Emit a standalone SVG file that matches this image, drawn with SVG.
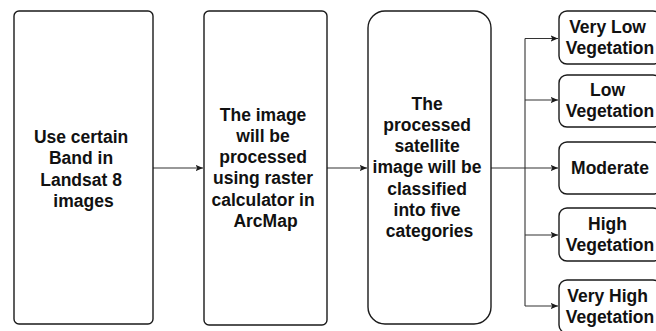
<svg xmlns="http://www.w3.org/2000/svg" width="656" height="331" viewBox="0 0 656 331">
  <defs>
    <marker id="arrow" viewBox="0 0 8 8" refX="7.5" refY="4" markerWidth="8" markerHeight="8" markerUnits="userSpaceOnUse" orient="auto">
      <path d="M0,0.8 L7.5,4 L0,7.2 L1.8,4 Z" fill="#1a1a1a"/>
    </marker>
    <style>
      .box { fill: #ffffff; stroke: #1a1a1a; stroke-width: 1.4; }
      .edge { fill: none; stroke: #333333; stroke-width: 1.1; }
      .lbl { font-family: "Liberation Sans", Arial, sans-serif; font-weight: bold; font-size: 17.5px; fill: #111111; text-anchor: middle; }
    </style>
  </defs>
  <rect width="656" height="331" fill="#ffffff"/>

  <g id="connectors">
    <path class="edge" d="M153,168 H203" marker-end="url(#arrow)"/>
    <path class="edge" d="M327,168 H367" marker-end="url(#arrow)"/>
    <path class="edge" d="M491,168 H558" marker-end="url(#arrow)"/>
    <path class="edge" d="M525,38.5 V306"/>
    <path class="edge" d="M525,38.5 H558" marker-end="url(#arrow)"/>
    <path class="edge" d="M525,100 H558" marker-end="url(#arrow)"/>
    <path class="edge" d="M525,235 H558" marker-end="url(#arrow)"/>
    <path class="edge" d="M525,306 H558" marker-end="url(#arrow)"/>
  </g>

  <g id="band-selection">
    <rect class="box" x="14" y="11" width="139" height="313" rx="5"/>
    <text class="lbl">
      <tspan x="83.5" y="143">Use certain</tspan>
      <tspan x="83.5" y="164.3">Band in</tspan>
      <tspan x="83.5" y="185.6">Landsat 8</tspan>
      <tspan x="83.5" y="206.9">images</tspan>
    </text>
  </g>

  <g id="raster-processing">
    <rect class="box" x="204" y="11" width="123" height="314" rx="5"/>
    <text class="lbl">
      <tspan x="265.5" y="120.5">The image</tspan>
      <tspan x="265.5" y="141.8">will be</tspan>
      <tspan x="265.5" y="163.1">processed</tspan>
      <tspan x="265.5" y="184.4">using raster</tspan>
      <tspan x="265.5" y="205.7">calculator in</tspan>
      <tspan x="265.5" y="227">ArcMap</tspan>
    </text>
  </g>

  <g id="classification">
    <rect class="box" x="368" y="11" width="123" height="313" rx="17"/>
    <text class="lbl">
      <tspan x="429.5" y="109.5">The</tspan>
      <tspan x="429.5" y="130.8">processed</tspan>
      <tspan x="429.5" y="152.1">satellite</tspan>
      <tspan x="429.5" y="173.4">image will be</tspan>
      <tspan x="429.5" y="194.7">classified</tspan>
      <tspan x="429.5" y="216">into five</tspan>
      <tspan x="429.5" y="237.3">categories</tspan>
    </text>
  </g>

  <g id="very-low-vegetation">
    <rect class="box" x="559" y="11" width="102" height="53" rx="8"/>
    <text class="lbl">
      <tspan x="610" y="33">Very Low</tspan>
      <tspan x="610" y="54.3">Vegetation</tspan>
    </text>
  </g>

  <g id="low-vegetation">
    <rect class="box" x="559" y="75" width="102" height="52" rx="8"/>
    <text class="lbl">
      <tspan x="610" y="96">Low</tspan>
      <tspan x="610" y="117.3">Vegetation</tspan>
    </text>
  </g>

  <g id="moderate">
    <rect class="box" x="559" y="142" width="102" height="52" rx="8"/>
    <text class="lbl" x="610" y="174">Moderate</text>
  </g>

  <g id="high-vegetation">
    <rect class="box" x="559" y="208" width="102" height="53" rx="8"/>
    <text class="lbl">
      <tspan x="610" y="230">High</tspan>
      <tspan x="610" y="251.3">Vegetation</tspan>
    </text>
  </g>

  <g id="very-high-vegetation">
    <rect class="box" x="559" y="280" width="102" height="53" rx="8"/>
    <text class="lbl">
      <tspan x="610" y="302">Very High</tspan>
      <tspan x="610" y="323.3">Vegetation</tspan>
    </text>
  </g>
</svg>
